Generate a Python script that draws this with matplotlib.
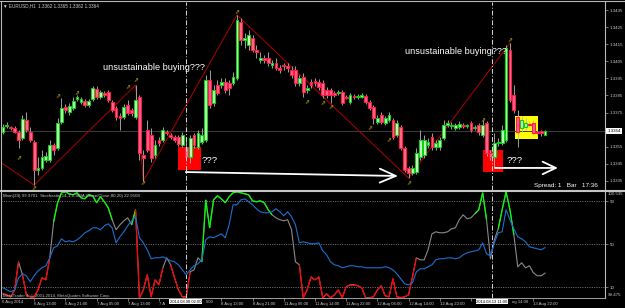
import matplotlib
matplotlib.use("Agg")
import matplotlib.pyplot as plt
import numpy as np
from matplotlib.patches import Rectangle
from matplotlib.lines import Line2D
from matplotlib.collections import LineCollection

# ---------------- data ----------------
open_ = [
1.33636, 1.33671, 1.33666, 1.33660, 1.33636, 1.33601, 1.33707, 1.33636, 1.33578, 1.33414,
1.33426, 1.33473, 1.33473, 1.33560, 1.33543, 1.33695, 1.33783, 1.33753, 1.33777, 1.33829,
1.33812, 1.33818, 1.33794, 1.33829, 1.33888, 1.33841, 1.33864, 1.33870, 1.33812, 1.33777,
1.33730, 1.33724, 1.33794, 1.33765, 1.33724, 1.33841, 1.33502, 1.33648, 1.33619, 1.33502,
1.33590, 1.33590, 1.33636, 1.33619, 1.33607, 1.33607, 1.33560, 1.33549, 1.33490, 1.33619,
1.33549, 1.33578, 1.33590, 1.33941, 1.33806, 1.33911, 1.33911, 1.33929, 1.33923, 1.33923,
1.33952, 1.34280, 1.34175, 1.34145, 1.34186, 1.34116, 1.34058, 1.34069, 1.34069, 1.34028,
1.34040, 1.34011, 1.34028, 1.34022, 1.33999, 1.33999, 1.33923, 1.33958, 1.33882, 1.33929,
1.33935, 1.33929, 1.33923, 1.33882, 1.33882, 1.33864, 1.33864, 1.33870, 1.33841, 1.33812,
1.33847, 1.33841, 1.33841, 1.33847, 1.33812, 1.33783, 1.33695, 1.33736, 1.33689, 1.33707,
1.33707, 1.33619, 1.33666, 1.33543, 1.33426, 1.33396, 1.33402, 1.33490, 1.33502, 1.33560,
1.33607, 1.33549, 1.33549, 1.33601, 1.33677, 1.33671, 1.33660, 1.33666, 1.33677, 1.33671,
1.33689, 1.33660, 1.33677, 1.33619, 1.33689, 1.33513, 1.33490, 1.33572, 1.33572, 1.33590,
1.34116, 1.33853, 1.33724, 1.33660, 1.33666, 1.33683, 1.33689, 1.33636, 1.33642, 1.33620,
]
high = [
1.33683, 1.33695, 1.33671, 1.33671, 1.33648, 1.33736, 1.33753, 1.33666, 1.33590, 1.33490,
1.33531, 1.33519, 1.33590, 1.33572, 1.33718, 1.33835, 1.33800, 1.33806, 1.33841, 1.33853,
1.33841, 1.33829, 1.33829, 1.33905, 1.33905, 1.33882, 1.33876, 1.33882, 1.33824, 1.33788,
1.33747, 1.33800, 1.33824, 1.33777, 1.33911, 1.33853, 1.33531, 1.33707, 1.33660, 1.33590,
1.33607, 1.33666, 1.33648, 1.33630, 1.33619, 1.33619, 1.33636, 1.33590, 1.33619, 1.33630,
1.33648, 1.33660, 1.33970, 1.33999, 1.33911, 1.33941, 1.33952, 1.33952, 1.33941, 1.33987,
1.34321, 1.34303, 1.34215, 1.34233, 1.34204, 1.34145, 1.34104, 1.34087, 1.34104, 1.34058,
1.34069, 1.34028, 1.34040, 1.34040, 1.34022, 1.34022, 1.33970, 1.33981, 1.33911, 1.33946,
1.33952, 1.33946, 1.33941, 1.33900, 1.33894, 1.33876, 1.33882, 1.33882, 1.33853, 1.33864,
1.33859, 1.33859, 1.33864, 1.33859, 1.33824, 1.33794, 1.33736, 1.33753, 1.33730, 1.33753,
1.33718, 1.33707, 1.33677, 1.33554, 1.33437, 1.33443, 1.33543, 1.33648, 1.33619, 1.33601,
1.33630, 1.33590, 1.33607, 1.33707, 1.33707, 1.33695, 1.33689, 1.33701, 1.33689, 1.33683,
1.33701, 1.33677, 1.33689, 1.33707, 1.33701, 1.33531, 1.33630, 1.33601, 1.33677, 1.34145,
1.34157, 1.33911, 1.33765, 1.33730, 1.33718, 1.33701, 1.33707, 1.33648, 1.33648, 1.33650,
]
low = [
1.33625, 1.33660, 1.33648, 1.33630, 1.33543, 1.33590, 1.33636, 1.33578, 1.33326, 1.33385,
1.33414, 1.33461, 1.33461, 1.33502, 1.33531, 1.33683, 1.33747, 1.33736, 1.33765, 1.33818,
1.33800, 1.33783, 1.33783, 1.33818, 1.33829, 1.33829, 1.33841, 1.33812, 1.33753, 1.33707,
1.33648, 1.33712, 1.33736, 1.33730, 1.33712, 1.33473, 1.33350, 1.33519, 1.33461, 1.33484,
1.33554, 1.33578, 1.33619, 1.33595, 1.33578, 1.33554, 1.33549, 1.33473, 1.33455, 1.33543,
1.33537, 1.33566, 1.33578, 1.33777, 1.33788, 1.33853, 1.33894, 1.33864, 1.33853, 1.33911,
1.33941, 1.34145, 1.34128, 1.34116, 1.34104, 1.34069, 1.34040, 1.34040, 1.34022, 1.34011,
1.33999, 1.33981, 1.33999, 1.33987, 1.33952, 1.33905, 1.33905, 1.33841, 1.33864, 1.33894,
1.33905, 1.33882, 1.33835, 1.33835, 1.33806, 1.33841, 1.33853, 1.33794, 1.33829, 1.33800,
1.33829, 1.33829, 1.33835, 1.33800, 1.33765, 1.33683, 1.33683, 1.33683, 1.33677, 1.33695,
1.33595, 1.33607, 1.33531, 1.33402, 1.33367, 1.33385, 1.33391, 1.33473, 1.33484, 1.33543,
1.33531, 1.33531, 1.33531, 1.33590, 1.33666, 1.33654, 1.33648, 1.33654, 1.33660, 1.33660,
1.33636, 1.33648, 1.33619, 1.33607, 1.33496, 1.33473, 1.33426, 1.33554, 1.33560, 1.33578,
1.33812, 1.33747, 1.33549, 1.33636, 1.33648, 1.33666, 1.33619, 1.33619, 1.33613, 1.33620,
]
close = [
1.33666, 1.33677, 1.33660, 1.33636, 1.33590, 1.33712, 1.33648, 1.33590, 1.33414, 1.33426,
1.33490, 1.33496, 1.33560, 1.33531, 1.33689, 1.33777, 1.33765, 1.33788, 1.33818, 1.33841,
1.33829, 1.33794, 1.33818, 1.33894, 1.33841, 1.33870, 1.33853, 1.33824, 1.33765, 1.33724,
1.33718, 1.33783, 1.33747, 1.33747, 1.33824, 1.33513, 1.33484, 1.33531, 1.33484, 1.33560,
1.33572, 1.33648, 1.33630, 1.33607, 1.33590, 1.33566, 1.33619, 1.33490, 1.33601, 1.33560,
1.33630, 1.33619, 1.33941, 1.33794, 1.33882, 1.33864, 1.33929, 1.33882, 1.33894, 1.33958,
1.34292, 1.34175, 1.34186, 1.34204, 1.34116, 1.34104, 1.34069, 1.34058, 1.34040, 1.34040,
1.34011, 1.33999, 1.34022, 1.34011, 1.33970, 1.33923, 1.33952, 1.33870, 1.33894, 1.33911,
1.33923, 1.33900, 1.33853, 1.33853, 1.33853, 1.33853, 1.33870, 1.33806, 1.33835, 1.33853,
1.33841, 1.33847, 1.33853, 1.33812, 1.33777, 1.33718, 1.33718, 1.33695, 1.33718, 1.33736,
1.33607, 1.33689, 1.33543, 1.33414, 1.33396, 1.33426, 1.33513, 1.33590, 1.33590, 1.33578,
1.33549, 1.33572, 1.33590, 1.33677, 1.33689, 1.33677, 1.33677, 1.33683, 1.33671, 1.33677,
1.33648, 1.33666, 1.33636, 1.33677, 1.33513, 1.33490, 1.33572, 1.33578, 1.33648, 1.34128,
1.33824, 1.33765, 1.33636, 1.33707, 1.33689, 1.33677, 1.33630, 1.33630, 1.33630, 1.33640,
]

stoch = [
3.7, 2.8, 0.9, 7.4, 33.5, 21.4, 2.8, 0.9, 0.9, 7.4,
18.6, 16.7, 37.2, 70.7, 88.4, 97.7, 98.6, 96.7, 95.8, 97.7,
93.0, 92.1, 95.8, 94.9, 88.4, 94.0, 89.3, 83.7, 72.6, 63.3,
67.9, 71.6, 74.4, 67.9, 81.9, 0.0, 7.4, 21.4, 0.9, 16.7,
12.1, 27.9, 37.2, 30.7, 18.6, 7.4, 0.9, 0.9, 24.2, 26.0,
37.2, 33.5, 91.0, 65.1, 91.2, 94.9, 92.1, 88.4, 94.0, 97.7,
98.6, 97.7, 96.7, 95.8, 90.2, 89.3, 90.2, 88.4, 81.9, 77.2,
74.4, 72.6, 71.6, 72.6, 63.3, 33.5, 30.7, 0.0, 7.4, 19.5,
16.7, 19.5, 0.0, 3.7, 0.0, 2.8, 7.4, 0.0, 10.2, 12.1,
12.1, 11.2, 9.3, 0.0, 0.0, 0.9, 7.4, 11.2, 1.9, 0.9,
17.7, 0.9, 0.0, 0.9, 2.8, 19.5, 37.2, 35.3, 35.3, 44.7,
59.5, 61.4, 60.5, 60.5, 61.4, 64.2, 65.1, 72.6, 77.2, 73.5,
74.4, 78.1, 81.9, 97.7, 72.6, 36.3, 54.0, 64.2, 81.9, 98.6,
81.9, 58.6, 28.8, 32.6, 27.9, 29.8, 23.3, 20.5, 20.5, 22.9508,
]
mom = [
99.574, 99.554, 99.534, 99.554, 99.672, 99.712, 99.692, 99.633, 99.692, 99.741,
99.771, 99.791, 99.869, 99.968, 99.988, 100.057, 100.027, 100.037, 100.027, 100.047,
100.077, 100.116, 100.136, 100.165, 100.165, 100.146, 100.185, 100.205, 100.165, 100.017,
100.077, 100.126, 100.185, 100.234, 100.274, 100.067, 100.017, 99.948, 99.860, 99.869,
99.869, 99.879, 99.860, 99.840, 99.830, 99.800, 99.751, 99.702, 99.751, 99.791,
99.810, 99.850, 100.047, 100.077, 100.067, 100.086, 100.106, 100.067, 100.195, 100.392,
100.392, 100.441, 100.451, 100.422, 100.392, 100.353, 100.323, 100.313, 100.313, 100.323,
100.353, 100.323, 100.284, 100.323, 100.274, 100.195, 100.017, 100.027, 100.017, 100.008,
100.008, 100.017, 99.939, 99.899, 99.830, 99.800, 99.791, 99.771, 99.781, 99.791,
99.791, 99.781, 99.781, 99.771, 99.771, 99.771, 99.771, 99.771, 99.781, 99.771,
99.751, 99.712, 99.662, 99.613, 99.603, 99.623, 99.731, 99.761, 99.761, 99.781,
99.800, 99.850, 99.860, 99.860, 99.869, 99.869, 99.860, 99.869, 99.899, 99.919,
99.929, 99.939, 99.948, 100.017, 99.909, 99.889, 100.017, 100.116, 100.126, 100.343,
100.244, 100.155, 100.077, 100.057, 100.027, 99.978, 99.968, 99.958, 99.948, 99.9701,
]

zigzag_bars = [-1, 8, 34, 36, 60, 104, 130]
zigzag_price = [1.33465, 1.33326, 1.33911, 1.33350, 1.34321, 1.33367, 1.34157]

fractal_bars = [4, 8, 14, 19, 32, 34, 36, 60, 78, 82, 84, 94, 99, 104, 123, 130]
fractal_price = [1.33484, 1.33309, 1.33847, 1.33864, 1.33900, 1.33941, 1.33338, 1.34338,
                 1.33812, 1.33806, 1.33783, 1.33660, 1.33590, 1.33338, 1.33707, 1.34175]

# time axis labels (the parts hidden behind the two date boxes are not shown)
time_tick_bars = [8, 16, 24, 32, 40, 48, 56, 64, 72, 80, 88, 96, 104, 112, 120, 128, 136]
time_tick_labels = ["6 Aug 13:00", "6 Aug 21:00", "7 Aug 05:00", "7 Aug 13:00", "7 A",
                    "", "8 Aug 13:00", "8 Aug 21:00", "11 Aug 06:00", "11 Aug 14:00",
                    "11 Aug 22:00", "12 Aug 06:00", "12 Aug 14:00", "12 Aug 22:00", "",
                    "", "13 Aug 22:00"]
# visible tails of labels partly covered by the date boxes: (bar, text)
label_tails = [(52.0, "5:00"), (130.4, "ug 14:00")]
first_date_label = "6 Aug 2014"

price_ticks = [1.3435, 1.3425, 1.3415, 1.3405, 1.3395, 1.3385, 1.3375, 1.3355, 1.3345, 1.3335]
stoch_levels = [90, 50, 10]
mom_range = (99.475, 100.535)

vline_bars = [46.9, 125.4]
vline_labels = ["2014.08.08 02:00", "2014.08.13 11:00"]

# ------------- figure geometry (pixels) -------------
W, H = 625, 308
PX = 3.9           # pixels per bar
fig = plt.figure(figsize=(W / 100, H / 100), dpi=100, facecolor="black")
FONT = ["Liberation Sans", "DejaVu Sans"]
plt.rcParams["font.family"] = FONT

def fx(px):
    return px / W

def fy(py):
    return 1 - py / H

L, R = 1, 605
TOP, MID, BOT = 1.5, 190.3, 297.8
xmin = -0.5
xmax = xmin + (R - L) / PX

ax = fig.add_axes([fx(L), fy(MID), (R - L) / W, (MID - TOP) / H])
ax2 = fig.add_axes([fx(L), fy(BOT), (R - L) / W, (BOT - MID) / H])
for a in (ax, ax2):
    a.set_facecolor("black")
    a.set_xlim(xmin, xmax)
    for s in a.spines.values():
        s.set_visible(False)

# price scale: 1 px = 0.0000585
p_top = 1.344085 - 0.0000585 * TOP
p_bot = 1.344085 - 0.0000585 * MID
ax.set_ylim(p_bot, p_top)

o = np.array(open_); h = np.array(high); lo = np.array(low); c = np.array(close)
x = np.arange(len(c))

# background objects (rectangles)
boxes = [((44.9, 1.33414), 5.9, 0.00135, "#FF0000"),
         ((123.1, 1.33402), 5.1, 0.00129, "#FF0000"),
         ((131.3, 1.33595), 5.9, 0.00135, "#FFFF00")]
for (xy, wd, ht, col) in boxes:
    ax.add_patch(Rectangle(xy, wd, ht, facecolor=col, edgecolor="none", zorder=1))

# current price line
ax.axhline(c[-1], color="#3c3c3c", lw=0.7, zorder=1.5)

# zigzag
ax.plot(zigzag_bars, zigzag_price, color="#B00000", lw=0.7, zorder=2)

# candles
up = c >= o
ax.vlines(x, lo, h, color="#B8B8B8", lw=0.6, zorder=3)
bb = np.minimum(o, c)
bh = np.abs(c - o)
ax.bar(x[up], bh[up], bottom=bb[up], width=0.74, color="#C8F8C8", edgecolor="#10D010",
       linewidth=0.8, zorder=4)
ax.bar(x[~up], bh[~up], bottom=bb[~up], width=0.74, color="#FF6A86", edgecolor="#FF1A4A",
       linewidth=0.8, zorder=4)

# fractal markers
for fb, fp in zip(fractal_bars, fractal_price):
    ax.text(fb, fp, "\u21D7", color="#D8C000", fontsize=4.2, ha="center", va="center",
            family=["DejaVu Sans"], zorder=5)

# vertical lines
for vb in vline_bars:
    for a in (ax, ax2):
        a.axvline(vb, color="#D8D8D8", lw=0.7, ls=(0, (5, 2, 1, 2)), zorder=6)

# annotations
txt = dict(color="white", zorder=7, family=FONT)
ax.text(25.7, 1.34014, "unsustainable buying???", fontsize=6.6, va="center", ha="left", **txt)
ax.text(103.1, 1.34110, "unsustainable buying???", fontsize=6.6, va="center", ha="left", **txt)
ax.text(51.0, 1.33467, "???", fontsize=6.8, va="center", ha="left", **txt)
ax.text(129.2, 1.33467, "???", fontsize=6.8, va="center", ha="left", **txt)

arrows = [((46.9, 1.33402), (101.3, 1.33379), 1.15, 0.5),
          ((126.2, 1.33426), (142.3, 1.33426), 0.95, 0.45)]
for (p0, p1, hl, hw) in arrows:
    ax.annotate("", xy=p1, xytext=p0,
                arrowprops=dict(arrowstyle="->,head_length=%g,head_width=%g" % (hl, hw),
                                color="white", lw=1.3, shrinkA=0, shrinkB=0), zorder=7)

# price axis on the right
ax.yaxis.tick_right()
ax.set_yticks(price_ticks)
ax.set_yticklabels([f"{v:.4f}" for v in price_ticks])
ax.tick_params(axis="y", length=2, width=0.5, color="#A0A0A0", labelsize=3.2,
               labelcolor="#C8C8C8", pad=1.2)
ax.set_xticks([])
ax.annotate(f"{c[-1]:.4f}", xy=(1, c[-1]), xycoords=("axes fraction", "data"),
            xytext=(1.6, 0), textcoords="offset points", ha="left", va="center",
            fontsize=3.2, color="black", annotation_clip=False,
            bbox=dict(boxstyle="square,pad=0.25", fc="white", ec="none"))

# ---------------- indicator panel ----------------
ax2.set_ylim(0, 100)
for lv in stoch_levels:
    ax2.axhline(lv, color="#8C8C8C", lw=0.6, ls=(0, (1.2, 1.6)), zorder=1)

axm = ax2.twinx()
axm.set_ylim(*mom_range)
axm.set_xlim(xmin, xmax)
axm.set_yticks([])
for s in axm.spines.values():
    s.set_visible(False)
axm.plot(x, mom, color="#1E6FD0", lw=0.8, zorder=3)

st = np.array(stoch)
ax2.plot(x, st, color="#8A8A8A", lw=0.8, zorder=3)
segs, cols = [], []
for i in range(len(st) - 1):
    a0, a1 = st[i], st[i + 1]
    if min(a0, a1) < 20:
        cols.append("#FF0000")
    elif max(a0, a1) > 80:
        cols.append("#00FF00")
    else:
        continue
    segs.append([(x[i], a0), (x[i + 1], a1)])
ax2.add_collection(LineCollection(segs, colors=cols, linewidths=0.9, zorder=4))

ax2.yaxis.tick_right()
ax2.set_yticks(stoch_levels)
ax2.set_yticklabels([str(v) for v in stoch_levels])
ax2.tick_params(axis="y", length=2, width=0.5, color="#A0A0A0", labelsize=3.2,
                labelcolor="#C8C8C8", pad=1.2)
ax2.text(1.005, 0.985, f"{mom_range[1]:.3f}", transform=ax2.transAxes, fontsize=3.2,
         color="#C8C8C8", ha="left", va="top")
ax2.text(1.005, 0.01, f"{mom_range[0]:.3f}", transform=ax2.transAxes, fontsize=3.2,
         color="#C8C8C8", ha="left", va="bottom")

ax2.set_xticks(time_tick_bars)
ax2.set_xticklabels(time_tick_labels)
for lab in ax2.get_xticklabels():
    lab.set_horizontalalignment("left")
ax2.tick_params(axis="x", length=2, width=0.5, color="#A0A0A0", labelsize=3.1,
                labelcolor="#C8C8C8", pad=0.8)
xt = ax2.get_xaxis_transform()
ax2.text(-0.3, -0.018, first_date_label, transform=xt, fontsize=3.1,
         color="#C8C8C8", ha="left", va="top")
for tb, tt in label_tails:
    ax2.text(tb, -0.018, tt, transform=xt, fontsize=3.1, color="#C8C8C8", ha="left", va="top")
for vb, lbl in zip(vline_bars, vline_labels):
    ax2.text(vb, -0.018, lbl, transform=xt, fontsize=3.0,
             color="black", ha="center", va="top", zorder=10,
             bbox=dict(boxstyle="square,pad=0.15", fc="white", ec="none"))

# ---------------- frame & labels ----------------
fc = "#B8B8B8"
fig.add_artist(Line2D([fx(0), fx(W)], [fy(1), fy(1)], color=fc, lw=0.8))
fig.add_artist(Line2D([fx(1), fx(1)], [fy(1), fy(BOT)], color=fc, lw=0.8))
fig.add_artist(Line2D([fx(R), fx(R)], [fy(1), fy(BOT)], color=fc, lw=0.8))
fig.add_artist(Line2D([fx(1), fx(W)], [fy(190.9), fy(190.9)], color="#C4C4C4", lw=1.5))
fig.add_artist(Line2D([fx(1), fx(R)], [fy(BOT), fy(BOT)], color=fc, lw=0.6))

title = f"\u25BC EURUSD,H1  {o[-1]:.4f} {h[-1]:.4f} {lo[-1]:.4f} {c[-1]:.4f}"
fig.text(fx(3), fy(5.5), title, fontsize=3.3, color="#D0D0D0", va="center", ha="left",
         family=FONT)
fig.text(fx(3), fy(196), f"Mom(24) {mom[-1]:.4f}  Stochastic(14,1,1,SMA,Close/Close,80,20) {stoch[-1]:.4f}",
         fontsize=3.2, color="#C8C8C8", va="center", ha="left")
fig.text(fx(3), fy(295.5), "MetaTrader 4, \u00A9 2001-2014, MetaQuotes Software Corp.",
         fontsize=3.1, color="#C0C0C0", va="center", ha="left")
fig.text(fx(598), fy(185.5), "Spread: 1   Bar   17:36", fontsize=4.6, color="white",
         va="center", ha="right")

fig.savefig("out.png", dpi=100, facecolor="black")
